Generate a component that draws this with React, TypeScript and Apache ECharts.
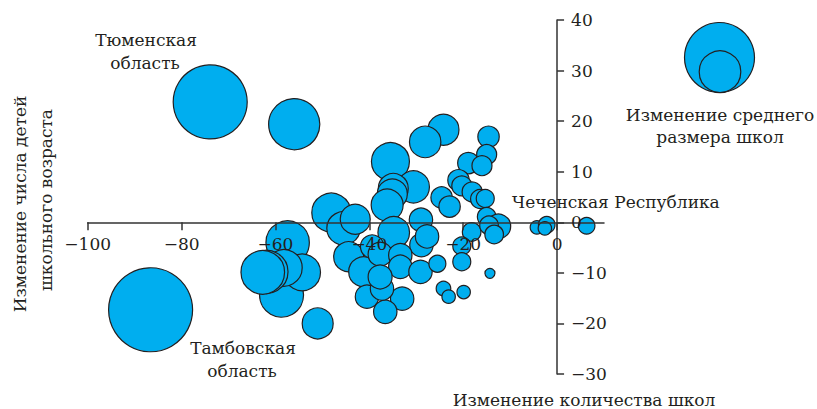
import React, { useEffect, useRef } from "react";
import * as echarts from "echarts";

// Change in number of schools, %
const schoolChange = [
  -73.9, -56.0, -86.6, -57.4, -58.7, -54.3, -58.2, -61.9, -62.7, -51.0,
  -48.1, -45.5, -43.0, -44.4, -41.2, -35.5, -24.2, -28.1, -14.6, -15.0,
  -18.9, -16.0, -30.6, -34.9, -35.1, -36.2, -21.0, -20.3, -18.1, -16.4,
  -15.3, -24.6, -22.9, -34.8, -29.0, -28.9, -27.7, -18.2, -15.0, -12.5,
  -14.5, -13.4, -39.4, -37.7, -33.4, -33.4, -29.1, -25.5, -20.3, -20.3,
  -24.2, -23.1, -19.9, -14.3, -40.5, -33.0, -36.6, -37.3, -37.7, -4.3,
  -2.2, -2.6, 6.3,
];
// Change in number of school-age children, %
const childrenChange = [
  23.8, 19.4, -17.3, -4.0, -14.4, -9.9, -9.0, -9.8, -9.9, -20.0,
  1.9, -1.2, 0.6, -6.8, -9.8, 12.0, 18.3, 15.9, 16.9, 13.4,
  11.7, 11.2, 7.0, 6.7, 5.6, 3.4, 8.3, 7.2, 6.0, 4.6,
  4.7, 4.9, 3.1, -2.0, 0.5, -4.5, -2.8, -1.9, 1.1, -0.8,
  -0.6, -2.4, -4.8, -6.3, -6.5, -8.8, -9.8, -8.2, -4.7, -7.8,
  -13.1, -14.7, -13.8, -10.1, -14.7, -15.1, -17.7, -13.1, -10.8, -1.0,
  -0.5, -1.2, -0.7,
];
// Change in average school size (bubble magnitude)
const avgSizeChange = [
  37, 25.6, 42, 21.7, 22, 18.3, 18.3, 21.5, 21.8, 15.5,
  19.5, 16.7, 15, 15, 15, 19, 15.5, 15.7, 10.7, 10,
  10.7, 10, 16, 15, 15, 16, 10.7, 10, 10, 9.5,
  9, 10.7, 10.7, 15.8, 11.7, 11.7, 11.7, 9.3, 9.3, 12.3,
  9.3, 9.3, 11.7, 12, 11.7, 11.7, 11.7, 8.5, 9, 9,
  7.3, 6.7, 6.7, 5, 11.7, 11.7, 11.7, 11.7, 12, 6.7,
  8.3, 6.7, 8.3,
];

const xTicks = [-100, -80, -60, -40, -20, 0];
const yTicks = [-30, -20, -10, 0, 10, 20, 30, 40];

const FONT = "DejaVu Serif";
const FS = 17;
const TEXT = "#231f20";
const FILL = "#00aeef";
const AXIS = "#333333";

const GRID = { left: 87.7, right: 213, top: 20, bottom: 35 };
const W = 817;
const H = 409;

export default function App() {
  const ref = useRef<HTMLDivElement>(null);
  useEffect(() => {
    document.body.style.margin = "0";
    const chart = echarts.init(ref.current!, null, { renderer: "svg" });
    const data = schoolChange.map((x, i) => [x, childrenChange[i], avgSizeChange[i]]);
    const minus = (v: any) => String(v).replace("-", "\u2212");
    const txt = (text: string, x: number, y: number, align = "center", extra: any = {}) => ({
      type: "text",
      x,
      y,
      ...extra,
      style: {
        text,
        fill: TEXT,
        fontSize: FS,
        fontFamily: FONT,
        align,
        verticalAlign: "middle",
      },
      z: 10,
    });
    const gw = W - GRID.left - GRID.right;
    const gh = H - GRID.top - GRID.bottom;
    const xMin = -100, xMax = 10, yMin = -30, yMax = 40;
    const yZeroFromBottom = ((0 - yMin) / (yMax - yMin)) * gh;
    const xZeroFromRight = ((xMax - 0) / (xMax - xMin)) * gw;
    chart.setOption({
      animation: false,
      grid: { ...GRID, outerBoundsMode: "none", containLabel: false },
      xAxis: {
        type: "value",
        min: xMin,
        max: xMax,
        interval: 20,
        z: 5,
        position: "bottom",
        offset: -yZeroFromBottom,
        axisLine: { onZero: false, lineStyle: { color: AXIS, width: 1.5 } },
        axisTick: { show: true, length: 8, customValues: xTicks, lineStyle: { color: AXIS, width: 1.5 } },
        axisLabel: {
          customValues: xTicks,
          margin: 13,
          formatter: minus,
          color: TEXT,
          fontSize: FS,
          fontFamily: FONT,
        },
        splitLine: { show: false },
      },
      yAxis: {
        type: "value",
        min: yMin,
        max: yMax,
        interval: 10,
        z: 5,
        position: "right",
        offset: -xZeroFromRight,
        axisLine: { show: true, onZero: false, lineStyle: { color: AXIS, width: 1.5 } },
        axisTick: { show: true, length: 7, customValues: yTicks, lineStyle: { color: AXIS, width: 1.5 } },
        axisLabel: {
          customValues: yTicks,
          margin: 14,
          formatter: minus,
          color: TEXT,
          fontSize: FS,
          fontFamily: FONT,
        },
        splitLine: { show: false },
      },
      series: [
        {
          type: "scatter",
          data,
          symbol: "circle",
          symbolSize: (v: number[]) => v[2] * 2,
          itemStyle: { color: FILL, borderColor: "#231f20", borderWidth: 1.2, opacity: 1 },
          z: 2,
        },
      ],
      graphic: [
        txt("Тюменская", 146, 40),
        txt("область", 145, 63),
        txt("Тамбовская", 243, 348),
        txt("область", 242, 371),
        txt("Чеченская Республика", 512, 202, "left"),
        txt("Изменение среднего", 720, 115),
        txt("размера школ", 720, 137),
        txt("Изменение количества школ", 584, 400),
        txt("Изменение числа детей", 20, 204, "center", { rotation: Math.PI / 2 }),
        txt("школьного возраста", 46, 200, "center", { rotation: Math.PI / 2 }),
        {
          type: "circle",
          shape: { cx: 719.5, cy: 57.5, r: 35 },
          style: { fill: FILL, stroke: "#231f20", lineWidth: 1.2 },
          z: 10,
        },
        {
          type: "circle",
          shape: { cx: 720, cy: 71.7, r: 20.8 },
          style: { fill: FILL, stroke: "#231f20", lineWidth: 1.2 },
          z: 11,
        },
      ],
    });
    return () => chart.dispose();
  }, []);
  return <div ref={ref} style={{ width: W, height: H }} />;
}
